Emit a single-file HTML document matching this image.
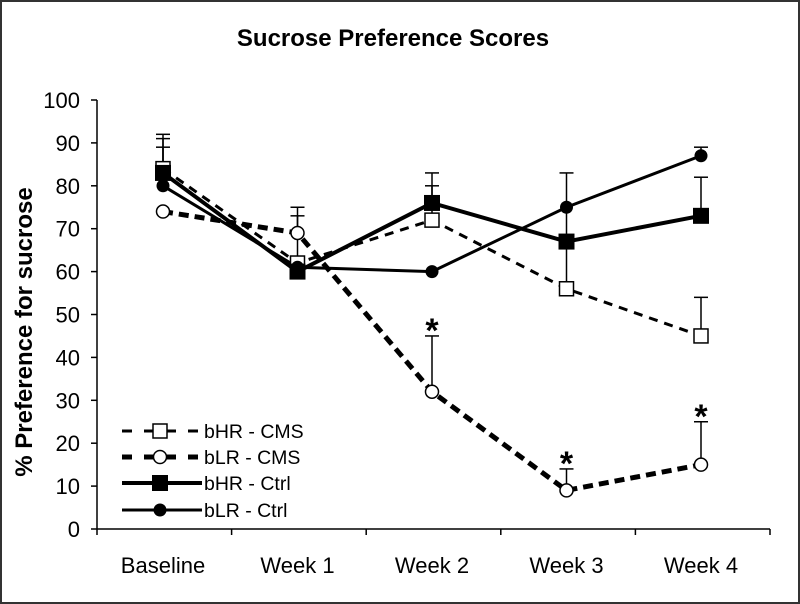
<!DOCTYPE html>
<html><head><meta charset="utf-8"><style>
body{margin:0;background:#fff;}
svg{display:block;font-family:"Liberation Sans",Arial,sans-serif;}
</style></head><body>
<svg id="chart" width="800" height="604" viewBox="0 0 800 604">
<rect x="1" y="1" width="798" height="602" fill="#fff" stroke="#333" stroke-width="2"/>
<text x="393" y="46" text-anchor="middle" font-size="24" font-weight="bold">Sucrose Preference Scores</text>
<text transform="translate(32,332) rotate(-90)" text-anchor="middle" font-size="24" font-weight="bold">% Preference for sucrose</text>
<g id="axes"></g><g id="series"></g><g id="legend"></g>
</svg>
<script>
const categories=["Baseline","Week 1","Week 2","Week 3","Week 4"];
const yTicks=[0,10,20,30,40,50,60,70,80,90,100];
const bHRcms=[84,62,72,56,45];
const bHRcmsErr=[92,73,80,83,54];
const bLRcms=[74,69,32,9,15];
const bLRcmsErr=[74,75,45,14,25];
const bHRctrl=[83,60,76,67,73];
const bHRctrlErr=[91,60,83,67,82];
const bLRctrl=[80,61,60,75,87];
const bLRctrlErr=[89,61,60,75,89];
const starIdx=[2,3,4];

const NS="http://www.w3.org/2000/svg";
const X0=97,X1=770,Y0=529,Y1=100;
const xs=i=>163+i*134.5;
const ys=v=>Y0-(v/100)*(Y0-Y1);
function mk(tag,attrs,parent){const e=document.createElementNS(NS,tag);for(const k in attrs)e.setAttribute(k,attrs[k]);parent.appendChild(e);return e;}
const axes=document.getElementById('axes'),ser=document.getElementById('series'),leg=document.getElementById('legend');

let a=mk('line',{x1:X0,y1:Y1,x2:X0,y2:Y0,stroke:'#000','stroke-width':1.5},axes);


a=mk('line',{x1:X0,y1:Y0,x2:X1,y2:Y0,stroke:'#000','stroke-width':1.5},axes);


yTicks.forEach(t=>{
 const l=mk('line',{x1:X0-6,x2:X0,y1:ys(t),y2:ys(t),stroke:'#000','stroke-width':1.5},axes);
 
 
 const tx=mk('text',{x:X0-17,y:ys(t)+8,'text-anchor':'end','font-size':22},axes);tx.textContent=t;
 
 
});
for(let i=0;i<=categories.length;i++){
 const x=X0+i*(X1-X0)/categories.length;
 const l=mk('line',{x1:x,x2:x,y1:Y0,y2:Y0+6,stroke:'#000','stroke-width':1.5},axes);
 
 
}
categories.forEach((c,i)=>{
 const tx=mk('text',{x:xs(i),y:Y0+44,'text-anchor':'middle','font-size':22},axes);tx.textContent=c;
 
 
});

function errs(vals,errv,name){
 vals.forEach((v,i)=>{
  if(errv[i]<=v)return;
  const g=mk('g',{stroke:'#000','stroke-width':1.5},ser);
  
  
  mk('line',{x1:xs(i),x2:xs(i),y1:ys(v),y2:ys(errv[i])},g);
  mk('line',{x1:xs(i)-7,x2:xs(i)+7,y1:ys(errv[i]),y2:ys(errv[i])},g);
 });
}
function line(vals,dash,w,name){
 const p=mk('polyline',{points:vals.map((v,i)=>xs(i)+','+ys(v)).join(' '),fill:'none',stroke:'#000','stroke-width':w,'stroke-dasharray':dash},ser);
 
 
}
function marker(parent,x,y,type,name){
 let m;
 if(type=='osq')m=mk('rect',{x:x-7,y:y-7,width:14,height:14,fill:'#fff',stroke:'#000','stroke-width':1.5},parent);
 if(type=='fsq')m=mk('rect',{x:x-8,y:y-8,width:16,height:16,fill:'#000'},parent);
 if(type=='oc')m=mk('circle',{cx:x,cy:y,r:6.5,fill:'#fff',stroke:'#000','stroke-width':1.5},parent);
 if(type=='fc')m=mk('circle',{cx:x,cy:y,r:6.5,fill:'#000'},parent);
 
 
}
const defs=[
 {v:bHRcms,e:bHRcmsErr,d:'9,7',w:3,m:'osq',n:'bhr-cms',label:'bHR - CMS'},
 {v:bLRcms,e:bLRcmsErr,d:'10,6',w:5,m:'oc',n:'blr-cms',label:'bLR - CMS'},
 {v:bHRctrl,e:bHRctrlErr,d:'',w:4,m:'fsq',n:'bhr-ctrl',label:'bHR - Ctrl'},
 {v:bLRctrl,e:bLRctrlErr,d:'',w:3,m:'fc',n:'blr-ctrl',label:'bLR - Ctrl'}];
defs.forEach(s=>errs(s.v,s.e,s.n));
defs.forEach(s=>line(s.v,s.d,s.w,s.n));
defs.forEach(s=>s.v.forEach((v,i)=>marker(ser,xs(i),ys(v),s.m,s.n+'-point')));
starIdx.forEach(i=>{
 const tx=mk('text',{x:xs(i),y:ys(bLRcmsErr[i])+6,'text-anchor':'middle','font-size':34,'font-weight':'bold'},ser);tx.textContent='*';
 
 
});
const legY=[431,457,483,510];
defs.forEach((s,k)=>{
 const g=mk('g',{},leg);
 
 
 mk('line',{x1:122,x2:202,y1:legY[k],y2:legY[k],stroke:'#000','stroke-width':s.w,'stroke-dasharray':s.d?'10,12':''},g);
 marker(g,160,legY[k],s.m,'legend-marker');
 const tx=mk('text',{x:204,y:legY[k]+7,'font-size':19.5},g);tx.textContent=s.label;
 
 
});
</script>
</body></html>
